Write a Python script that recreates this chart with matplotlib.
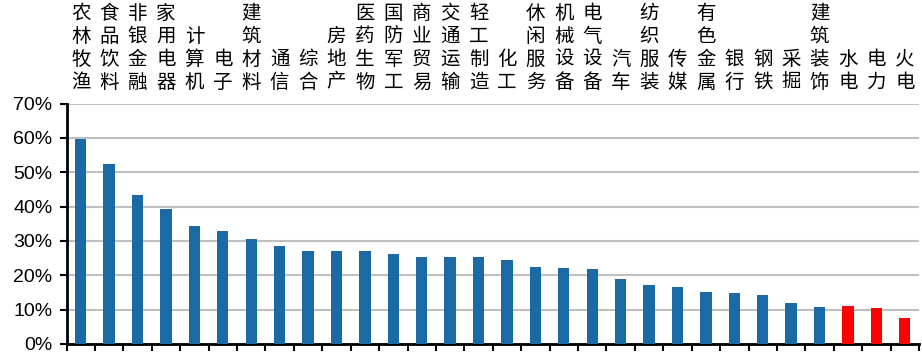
import matplotlib.pyplot as plt
from matplotlib.ticker import FuncFormatter, MultipleLocator
import numpy as np

plt.rcParams['font.family'] = ['Liberation Sans', 'DejaVu Sans']

# 行业名称及数值(%)
industries = ['农林牧渔', '食品饮料', '非银金融', '家用电器', '计算机', '电子', '建筑材料',
              '通信', '综合', '房地产', '医药生物', '国防军工', '商业贸易', '交通运输',
              '轻工制造', '化工', '休闲服务', '机械设备', '电气设备', '汽车', '纺织服装',
              '传媒', '有色金属', '银行', '钢铁', '采掘', '建筑装饰', '水电', '电力', '火电']
values = [59.8, 52.4, 43.4, 39.3, 34.4, 33.0, 30.7,
          28.5, 27.2, 27.2, 27.1, 26.2, 25.3, 25.2,
          25.2, 24.4, 22.3, 22.2, 21.8, 19.0, 17.2,
          16.7, 15.0, 14.9, 14.4, 11.9, 10.9, 11.1, 10.5, 7.6]
highlight = ['水电', '电力', '火电']

blue = '#1B6AA5'
red = '#FF0000'
colors = [red if name in highlight else blue for name in industries]

fig = plt.figure(figsize=(9.22, 3.56), dpi=100)
ax = fig.add_axes([66.5 / 922, 12 / 356, (919 - 66.5) / 922, (344 - 103.5) / 356])

x = np.arange(len(industries))
ax.bar(x, np.array(values) / 100, width=0.4, color=colors, zorder=3)

ax.set_xlim(-0.5, len(industries) - 0.5)
ax.set_ylim(0, 0.7)
ax.yaxis.set_major_locator(MultipleLocator(0.1))
ax.yaxis.set_major_formatter(FuncFormatter(lambda v, p: f'{v * 100:.0f}%'))
ax.grid(axis='y', color='#C0C0C0', linewidth=1.5, zorder=0)
ax.set_axisbelow(True)

# 类别分隔刻度
ax.set_xticks(np.arange(-0.5, len(industries) + 0.5, 1))
ax.set_xticklabels([])
ax.tick_params(axis='x', direction='out', length=5, width=1.5, color='black')
ax.tick_params(axis='y', direction='out', length=5, width=1.5, color='black',
               labelsize=14, pad=5)

for side in ['top', 'right']:
    ax.spines[side].set_visible(False)
for side in ['left', 'bottom']:
    ax.spines[side].set_linewidth(2)
    ax.spines[side].set_color('black')

# 竖排行业名
for i, name in enumerate(industries):
    ax.text(i, 1.045, '\n'.join(name), transform=ax.get_xaxis_transform(),
            ha='center', va='bottom', fontsize=14, linespacing=1.12,
            family=['Noto Sans CJK SC', 'DejaVu Sans'])

fig.savefig('out.png', dpi=100)
